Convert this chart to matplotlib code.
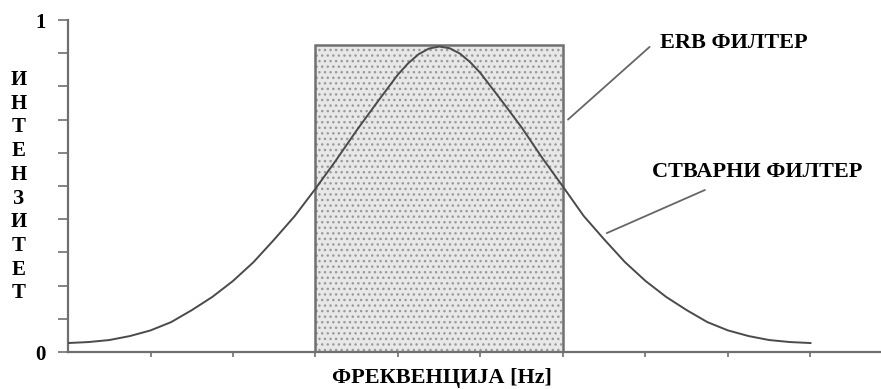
import matplotlib
matplotlib.use("Agg")
import matplotlib.pyplot as plt

freq = [0.0, 0.25, 0.5, 0.75, 1.0, 1.25, 1.5, 1.75, 2.0, 2.25, 2.5, 2.75,
        3.0, 3.25, 3.5, 3.75, 4.0, 4.125, 4.25, 4.375, 4.5, 4.625, 4.75,
        4.875, 5.0, 5.25, 5.5, 5.75, 6.0, 6.25, 6.5, 6.75, 7.0, 7.25, 7.5,
        7.75, 8.0, 8.25, 8.5, 8.75, 9.0]
real_filter = [0.027, 0.030, 0.036, 0.048, 0.065, 0.090, 0.126, 0.166,
               0.214, 0.271, 0.339, 0.410, 0.492, 0.578, 0.668, 0.753,
               0.836, 0.870, 0.897, 0.914, 0.920, 0.915, 0.899, 0.873,
               0.840, 0.759, 0.676, 0.584, 0.498, 0.410, 0.339, 0.271,
               0.214, 0.166, 0.126, 0.090, 0.065, 0.048, 0.036, 0.030,
               0.027]

# rectangular ERB filter
erb_low = 3.0
erb_width = 3.0
erb_height = 0.925

y_ticks = [0.0, 0.1, 0.2, 0.3, 0.4, 0.5, 0.6, 0.7, 0.8, 0.9, 1.0]
y_ticklabels = ["0", "", "", "", "", "", "", "", "", "", "1"]
x_ticks = [1, 2, 3, 4, 5, 6, 7, 8, 9]

ylabel_letters = list("ИНТЕНЗИТЕТ")
xlabel = "ФРЕКВЕНЦИЈА [Hz]"
erb_label = "ERB ФИЛТЕР"
real_label = "СТВАРНИ ФИЛТЕР"

plt.rcParams["font.family"] = ["Liberation Serif", "DejaVu Serif"]
plt.rcParams["font.weight"] = "bold"
plt.rcParams["hatch.linewidth"] = 1.0

W, H = 881, 389
fig = plt.figure(figsize=(W / 100, H / 100), dpi=100)
ax = fig.add_axes([68 / W, (H - 352) / H, (W - 68) / W, (352 - 20) / H])

axis_col = "#6f6f6f"
line_col = "#4a4a4a"
lead_col = "#666666"

# ERB box: light fill with dots, then the outline
ax.bar(erb_low, erb_height, width=erb_width, align="edge",
       facecolor="#e8e8e8", edgecolor="#9a9a9a", hatch="...", linewidth=0,
       zorder=1)
ax.bar(erb_low, erb_height, width=erb_width, align="edge",
       fill=False, edgecolor="#707070", linewidth=1.8, zorder=2)

ax.plot(freq, real_filter, color=line_col, linewidth=1.4, zorder=3,
        solid_joinstyle="round")

ax.set_xlim(0, (W - 68) / 82.5)
ax.set_ylim(0, 1)

for s in ["top", "right"]:
    ax.spines[s].set_visible(False)
for s in ["left", "bottom"]:
    ax.spines[s].set_color(axis_col)
    ax.spines[s].set_linewidth(1.6)

ax.set_yticks(y_ticks)
ax.set_yticklabels(y_ticklabels, fontsize=15, fontweight="bold")
ax.tick_params(axis="y", direction="out", length=7, width=1.2,
               color=axis_col, pad=9)
ax.set_xticks(x_ticks)
ax.set_xticklabels([])
ax.tick_params(axis="x", direction="out", length=3.5, width=1.2,
               color=axis_col)

# leader lines and labels
ax.annotate("", xy=(6.06, 0.70), xytext=(7.05, 0.919),
            arrowprops=dict(arrowstyle="-", color=lead_col, lw=1.3,
                            shrinkA=0, shrinkB=0))
ax.text(7.18, 0.931, erb_label, fontsize=16, fontweight="bold",
        va="center", ha="left")
ax.annotate("", xy=(6.53, 0.358), xytext=(7.72, 0.488),
            arrowprops=dict(arrowstyle="-", color=lead_col, lw=1.3,
                            shrinkA=0, shrinkB=0))
ax.text(7.08, 0.542, real_label, fontsize=16, fontweight="bold",
        va="center", ha="left")

# axis titles
fig.text(442 / W, 1 - 378 / H, xlabel, fontsize=16, fontweight="bold",
         ha="center", va="center")
for i, ch in enumerate(ylabel_letters):
    fig.text(19 / W, 1 - (80 + i * 23.7) / H, ch, fontsize=15,
             fontweight="bold", ha="center", va="center")

fig.savefig("out.png", dpi=100)
